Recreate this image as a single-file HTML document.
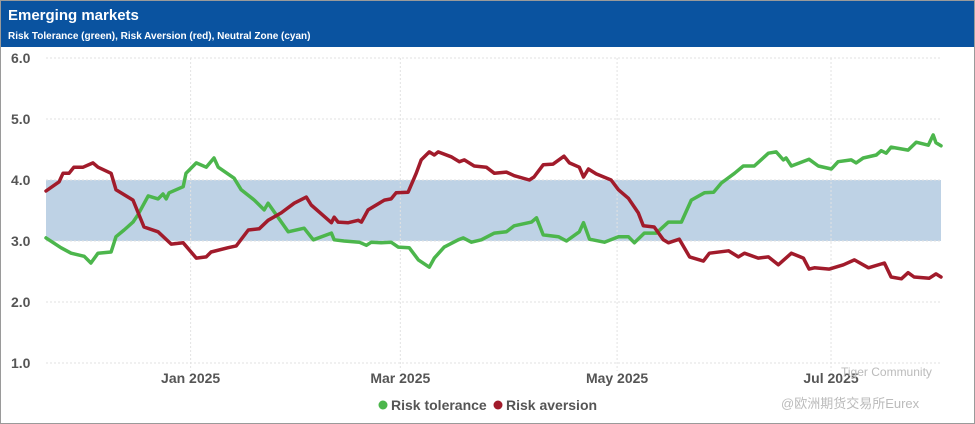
<!DOCTYPE html>
<html><head><meta charset="utf-8">
<style>
body{margin:0;background:#fff;font-family:"Liberation Sans","Noto Sans CJK SC",sans-serif;}
#wrap{position:relative;width:973px;height:422px;border:1px solid #9a9a9a;overflow:hidden;}
#hdr{position:absolute;left:0;top:0;width:973px;height:46px;background:#0a53a0;}
#title{position:absolute;left:7px;top:6px;color:#fff;font-weight:bold;font-size:15px;}
#sub{position:absolute;left:7px;top:30px;color:#fff;font-weight:bold;font-size:10px;}
svg{position:absolute;left:0;top:0;}
</style></head><body>
<div id="wrap">
<div id="hdr">
<div id="title">Emerging markets</div>
<div id="sub">Risk Tolerance (green), Risk Aversion (red), Neutral Zone (cyan)</div>
</div>
<svg id="chart" width="975" height="424"></svg>
</div>
<script>
const yTicks=[1,2,3,4,5,6];
const xTickDays=[40.9,100.2,161.5,222];
const xTickLabels=["Jan 2025","Mar 2025","May 2025","Jul 2025"];
const neutralLow=3, neutralHigh=4;
const toleranceDays=[0,4.2,7.1,10.8,12.7,14.7,18.4,19.8,22.1,24.6,26,28.9,31.7,33.1,34,34.8,38.8,39.6,42.5,45.3,47.5,48.7,53.2,55.2,58.9,61.7,62.8,68.5,73,75.6,80.7,81.5,84.3,88.6,90.6,92,94.8,97.6,99.6,102.7,105.3,108.4,109.8,112.6,116.6,118,120.3,123.1,126.8,130.2,132.4,137.3,138.7,140.6,144.9,147.2,150.8,152,153.7,157.9,161.9,164.7,166.4,169.2,172.6,176,179.7,182.5,186.2,188.8,191,194.7,197.2,200.3,204.3,206.5,208.5,209.3,210.8,215.8,218.4,222.1,224,227.7,229.1,231.1,234.8,236.2,237.6,239,243.8,246.1,249.5,250.9,251.7,253.1];
const toleranceValues=[3.05,2.89,2.80,2.75,2.64,2.80,2.82,3.07,3.18,3.31,3.43,3.74,3.69,3.77,3.69,3.79,3.89,4.11,4.28,4.21,4.36,4.21,4.03,3.84,3.67,3.51,3.62,3.15,3.21,3.02,3.13,3.02,3.00,2.98,2.93,2.98,2.97,2.98,2.90,2.89,2.69,2.57,2.72,2.90,3.02,3.05,2.98,3.02,3.13,3.15,3.25,3.31,3.38,3.10,3.07,3.00,3.15,3.30,3.03,2.98,3.07,3.07,2.97,3.13,3.13,3.31,3.31,3.67,3.79,3.80,3.95,4.11,4.23,4.23,4.44,4.46,4.33,4.36,4.23,4.34,4.23,4.18,4.30,4.33,4.28,4.36,4.41,4.48,4.44,4.54,4.49,4.62,4.57,4.74,4.61,4.56];
const aversionDays=[0,3.7,4.8,6.5,7.9,10.5,13.3,14.7,18.4,19.8,24.6,27.7,31.7,35.4,38.8,42.5,45.3,46.7,51.5,53.8,57.2,60.3,62.8,66.5,70.2,73.6,75,80.7,81.5,82.6,85.5,88.3,89.2,91.1,95.7,97.6,99,102.4,104.7,106.1,108.4,109.8,110.9,114.6,116.9,118.3,121.1,124.5,126.8,130.2,132.4,136.7,138,140.6,143.4,146.5,148,150.8,152,153.4,155.6,159.8,161.9,164.7,167.5,168.9,172,174.6,176,179.1,182,185.9,187.6,193,195.8,197.5,201.4,204.3,207.1,210.8,214.2,215.8,217.3,221.5,225.5,228.6,232.6,237.1,239,241.9,243.8,245.5,249.8,251.7,253.1];
const aversionValues=[3.82,3.97,4.11,4.11,4.21,4.21,4.28,4.21,4.11,3.84,3.67,3.23,3.15,2.95,2.97,2.72,2.74,2.82,2.89,2.92,3.18,3.20,3.34,3.46,3.62,3.72,3.59,3.30,3.39,3.31,3.30,3.34,3.31,3.51,3.67,3.69,3.79,3.80,4.11,4.33,4.46,4.41,4.46,4.38,4.30,4.33,4.23,4.21,4.11,4.13,4.07,4.00,4.05,4.25,4.26,4.39,4.28,4.21,4.05,4.18,4.10,4.00,3.84,3.70,3.46,3.25,3.23,3.02,2.97,3.03,2.74,2.67,2.80,2.84,2.74,2.80,2.72,2.74,2.61,2.80,2.72,2.54,2.56,2.54,2.61,2.69,2.56,2.64,2.41,2.38,2.48,2.41,2.39,2.46,2.41];

const NS="http://www.w3.org/2000/svg";
const svg=document.getElementById('chart');
const X0=45,X1=940,D0=0,D1=253.1,Y6=57,Y1=362;
function xs(d){return X0+(d-D0)/(D1-D0)*(X1-X0);}
function ys(v){return Y1-(v-1)/(6-1)*(Y1-Y6);}
function mk(tag,attrs){const e=document.createElementNS(NS,tag);for(const k in attrs)e.setAttribute(k,attrs[k]);svg.appendChild(e);return e;}

// neutral band
let band=mk('rect',{x:X0,y:ys(neutralHigh),width:X1-X0,height:ys(neutralLow)-ys(neutralHigh),fill:'#bed2e5'});



yTicks.forEach(v=>{
  const g=mk('line',{x1:X0,x2:X1,y1:ys(v),y2:ys(v),stroke:'#e2e2e2','stroke-dasharray':'2,2'});
  
  
  const t=mk('text',{x:10,y:ys(v)+5,'font-size':14,'font-weight':'bold',fill:'#555'});
  t.textContent=v.toFixed(1);
  
  
});
xTickDays.forEach((d,i)=>{
  const g=mk('line',{x1:xs(d),x2:xs(d),y1:Y6,y2:Y1+8,stroke:'#e2e2e2','stroke-dasharray':'2,2'});
  
  
  const t=mk('text',{x:xs(d),y:382,'font-size':14,'font-weight':'bold',fill:'#555','text-anchor':'middle'});
  t.textContent=xTickLabels[i];
  
  
});
function line(days,vals,color,name){
  const p=mk('polyline',{points:days.map((d,i)=>xs(d).toFixed(1)+','+ys(vals[i]).toFixed(1)).join(' '),fill:'none',stroke:color,'stroke-width':3.5,'stroke-linejoin':'round','stroke-linecap':'round'});
  
  
}
line(toleranceDays,toleranceValues,'#4cb64c','risk-tolerance-line');
line(aversionDays,aversionValues,'#a11b2b','risk-aversion-line');

// watermark
let w1=mk('text',{x:840,y:375,'font-size':12,fill:'#bbb'});w1.textContent='Tiger Community';


let w2=mk('text',{x:780,y:407,'font-size':13,fill:'#bbb'});w2.textContent='@欧洲期货交易所Eurex';



// legend
let c1=mk('circle',{cx:382,cy:404,r:4.5,fill:'#4cb64c'});


let l1=mk('text',{x:390,y:409,'font-size':14,'font-weight':'bold',fill:'#555'});l1.textContent='Risk tolerance';


let c2=mk('circle',{cx:497,cy:404,r:4.5,fill:'#a11b2b'});


let l2=mk('text',{x:505,y:409,'font-size':14,'font-weight':'bold',fill:'#555'});l2.textContent='Risk aversion';


</script>
</body></html>
